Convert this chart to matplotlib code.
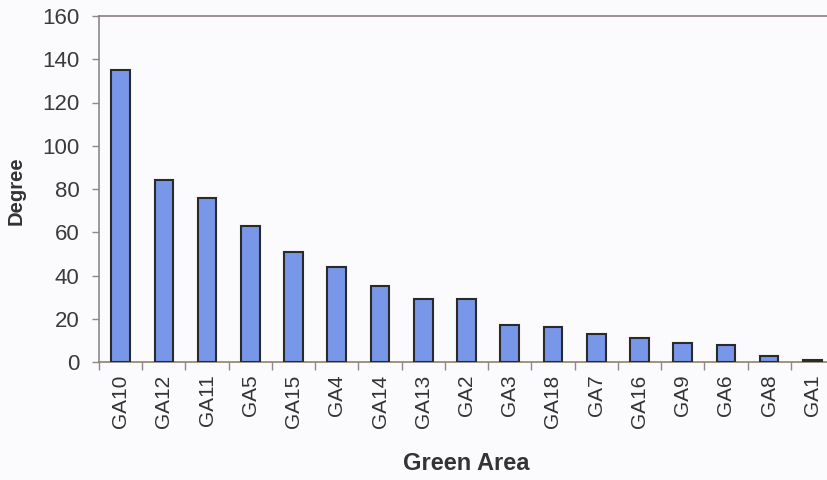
import matplotlib
matplotlib.use("Agg")
import matplotlib.pyplot as plt
import numpy as np

plt.rcParams['font.family'] = ['Liberation Sans', 'DejaVu Sans']

areas = ["GA10", "GA12", "GA11", "GA5", "GA15", "GA4", "GA14", "GA13", "GA2",
         "GA3", "GA18", "GA7", "GA16", "GA9", "GA6", "GA8", "GA1"]
degree = [135, 84, 76, 63, 51, 44, 35, 29, 29, 17, 16, 13, 11, 9, 8, 3, 1]
y_ticks = [0, 20, 40, 60, 80, 100, 120, 140, 160]

W, H = 827, 480
fig = plt.figure(figsize=(W / 100, H / 100), dpi=100)
fig.patch.set_facecolor("#fbfbfd")

# axes extend slightly past the right edge of the figure
left, right, top, bottom = 99, 834, 16, 362
ax = fig.add_axes([left / W, 1 - bottom / H, (right - left) / W, (bottom - top) / H])
ax.set_facecolor("#fbfbfd")

x = np.arange(len(areas))
ax.bar(x, degree, width=0.43, color="#7897e8", edgecolor="#2a2a2a", linewidth=1.5, zorder=3)

ax.set_xlim(-0.5, len(areas) - 0.5)
ax.set_ylim(0, 160)
ax.set_yticks(y_ticks)
ax.set_yticklabels([str(v) for v in y_ticks])

# category labels centred on bars, tick marks between categories
ax.set_xticks(x)
ax.set_xticklabels(areas, rotation=90)
ax.set_xticks(np.arange(len(areas) + 1) - 0.5, minor=True)
ax.tick_params(axis="x", which="major", length=0, pad=9, labelsize=15, labelcolor="#333333")
ax.tick_params(axis="x", which="minor", length=6, width=1.0, color="#8a8a8a", direction="out")
ax.tick_params(axis="y", length=5, width=1.0, color="#8a8a8a", direction="out",
               pad=9, labelsize=16, labelcolor="#3a3a3a")

for s in ["left", "bottom"]:
    ax.spines[s].set_color("#8a8a8a")
    ax.spines[s].set_linewidth(1.2)
ax.spines["bottom"].set_color("#8c8270")
ax.spines["top"].set_color("#8a7f86")
ax.spines["top"].set_linewidth(1.2)
ax.spines["right"].set_visible(False)

fig.text(16 / W, 1 - 191 / H, "Degree", rotation=90, ha="center", va="center",
         fontsize=14.5, fontweight="bold", color="#333333")
fig.text(466 / W, 1 - 463 / H, "Green Area", ha="center", va="center",
         fontsize=17, fontweight="bold", color="#333333")

fig.savefig("out.png", dpi=100, facecolor=fig.get_facecolor())
